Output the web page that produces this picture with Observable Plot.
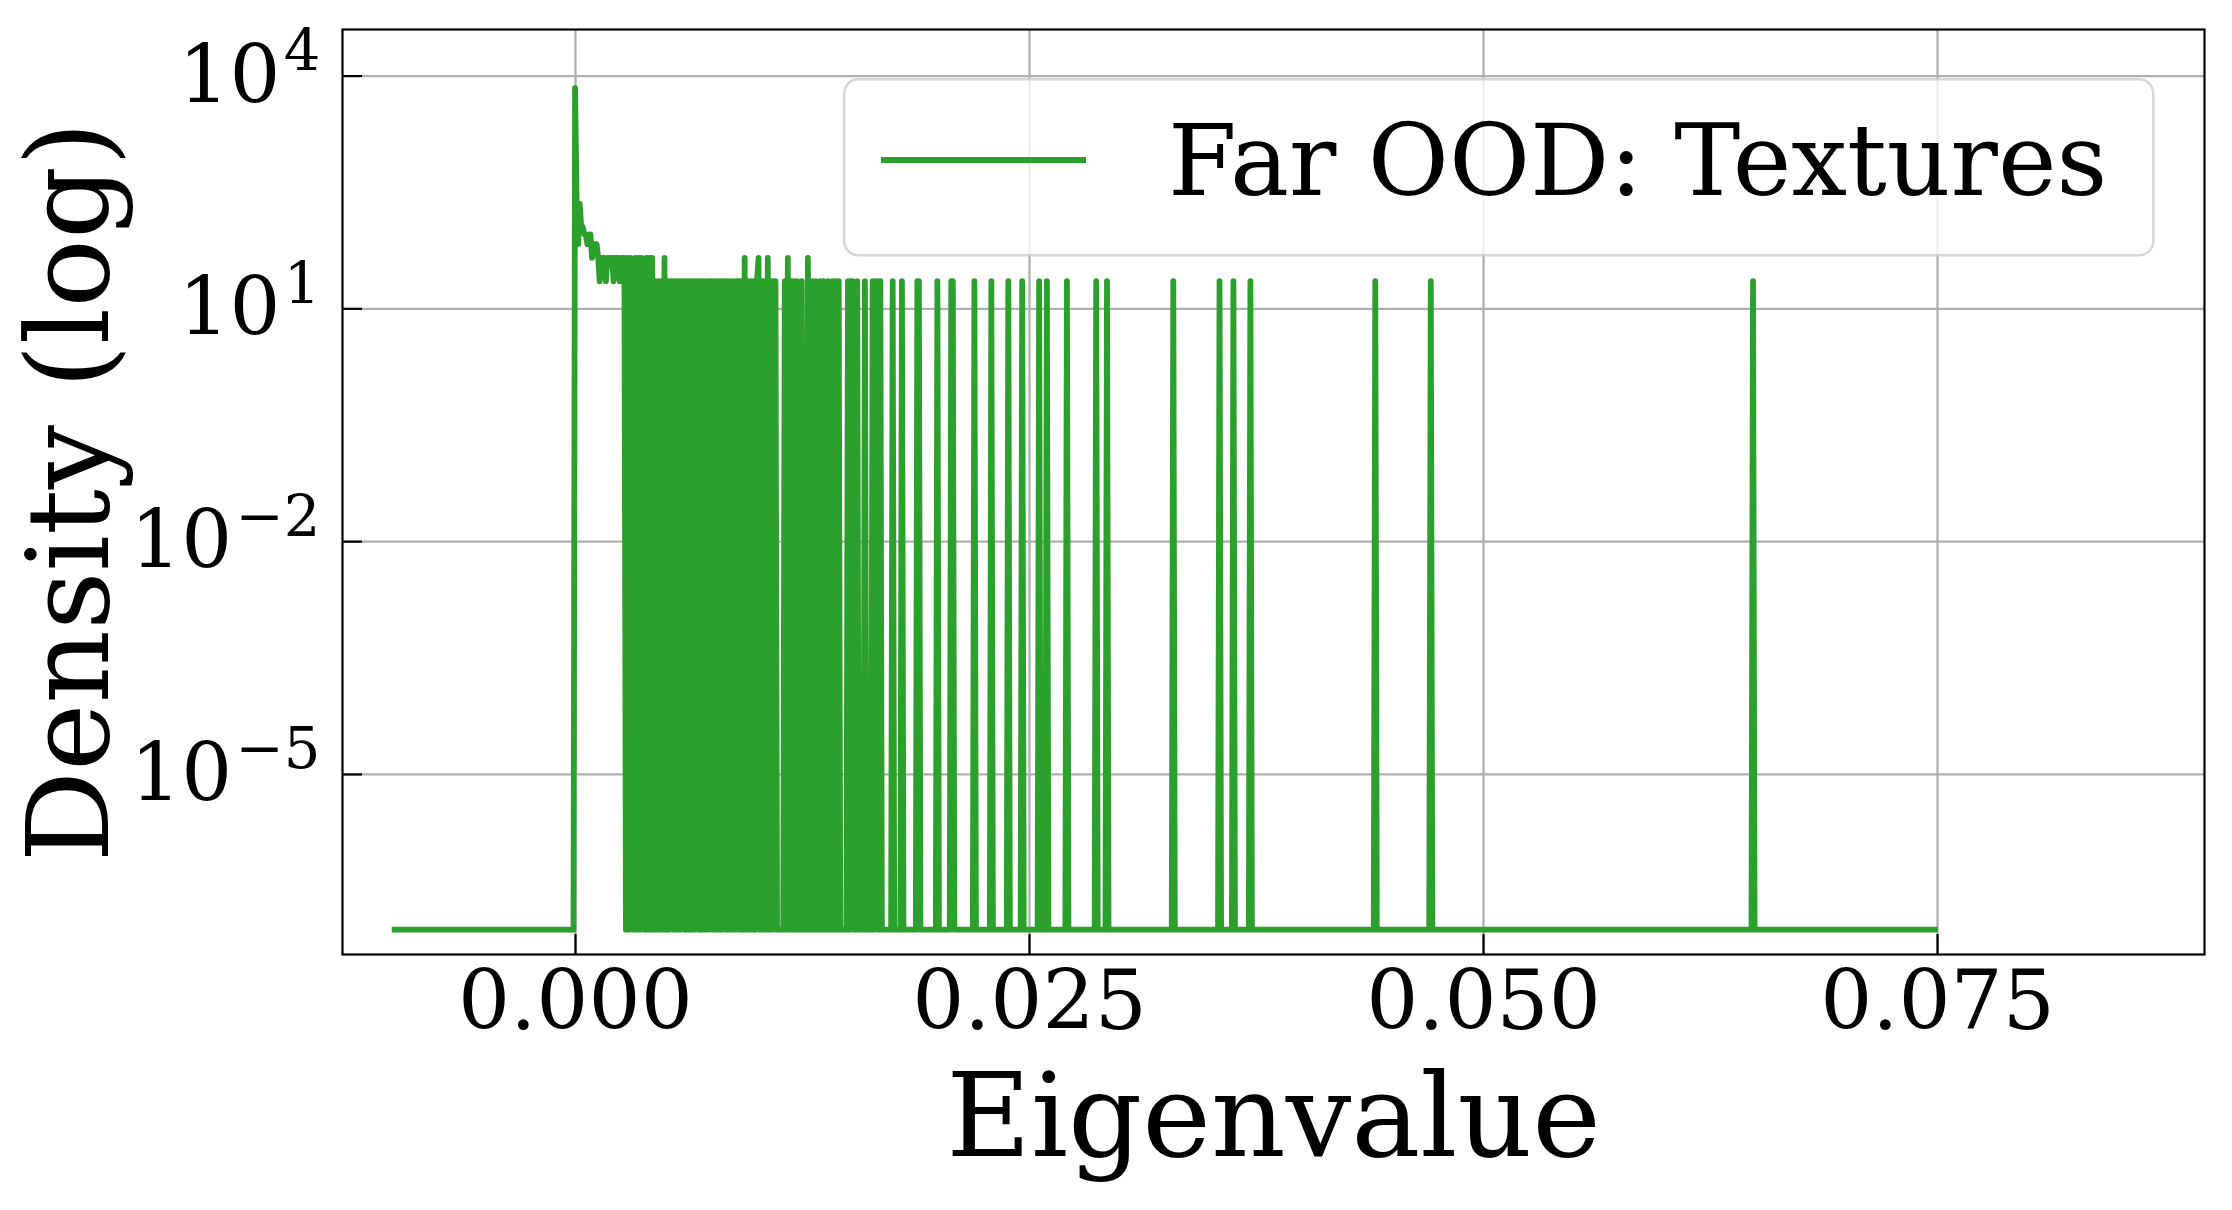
<!DOCTYPE html>
<html>
<head>
<meta charset="utf-8">
<script src="https://cdn.jsdelivr.net/npm/d3@7"></script>
<script src="https://cdn.jsdelivr.net/npm/@observablehq/plot@0.6"></script>
<style>
  html, body { margin: 0; padding: 0; background: #ffffff; }
  #wrap { position: relative; width: 2232px; height: 1210px; }
  #legend { position: absolute; left: 843px; top: 78px; }
</style>
</head>
<body>
<div id="wrap"></div>
<script>
// ---------------- data ----------------
// histogram of eigenvalues, 1000 bins over [min - 0.01, max + 0.01]
const histRange = [-0.0100, 0.0749];
const histBinCount = 1000;

// counts in consecutive bins, starting at the bin that contains eigenvalue 0
const denseCounts = [
  308, 11, 3, 10, 5, 5, 4, 4, 3, 4, 4, 2, 3, 3, 3, 2,
  1, 2, 2, 2, 1, 2, 2, 2, 2, 1, 2, 2, 2, 1, 2, 2, 2,
  0, 2, 0, 2, 1, 0, 2, 0, 2, 0, 2, 1, 0, 2, 0, 2, 0, 2, 0, 1,
  0, 1, 0, 1, 0, 2,
  0, 1, 0, 1, 1, 0, 1, 0, 1, 0, 1, 1, 0, 1, 0, 1, 0, 1, 0, 1,
  1, 0, 1, 0, 1, 0, 1, 0, 1, 1, 0, 1, 0, 1, 0, 1, 0, 1, 1, 0,
  1, 0, 1, 0, 1, 0, 1, 1, 0, 1,
  0, 2, 0, 1, 0, 1, 0, 1, 0, 1, 2, 0, 1, 0, 1, 0, 2, 0, 1, 0, 1, 1, 0, 0, 0, 0, 0,
  1, 0, 2, 0, 1, 0, 1, 0, 1, 0, 0, 1, 0, 0, 0, 2, 0, 0, 1, 0,
  1, 0, 0, 1, 0, 1, 0, 0, 1, 0, 0, 1, 0, 1, 0, 1, 0, 0, 0, 0,
  0, 1, 0, 1, 1, 0, 0, 1, 0, 0, 0, 0, 1, 0,
  0, 0, 0, 1, 0, 1, 1, 0, 1, 0, 0
];

// isolated eigenvalues further right
const sparseEigenvalues = [
  0.017465, 0.017975, 0.018824, 0.018908, 0.019927, 0.020691, 0.020776,
  0.021965, 0.022899, 0.023833, 0.024597, 0.025531, 0.025955, 0.027059,
  0.028672, 0.029266, 0.032917, 0.035464, 0.036228, 0.037162, 0.044039,
  0.047095, 0.064839
];
const sparseCounts = [
  1, 1, 1, 1, 1, 1, 1, 1, 1, 1, 1, 1, 1, 1, 1, 1, 1, 1, 1, 1, 1, 1, 1
];

const densityFloor = 1e-7;
const xTicks = [0, 0.025, 0.05, 0.075];
const yTicks = [1e4, 1e1, 1e-2, 1e-5];
const xLabel = "Eigenvalue";
const yLabel = "Density (log)";
const legendLabel = "Far OOD: Textures";
const lineColor = "#2ca02c";

// ---------------- build histogram density ----------------
const binWidth = (histRange[1] - histRange[0]) / histBinCount;
const counts = new Array(histBinCount).fill(0);
const zeroBin = Math.floor((0 - histRange[0]) / binWidth);
denseCounts.forEach((c, i) => { counts[zeroBin + i] += c; });
sparseEigenvalues.forEach((e, i) => {
  counts[Math.floor((e - histRange[0]) / binWidth)] += sparseCounts[i];
});
const total = d3.sum(counts);
const points = counts.map((c, i) => ({
  x: histRange[0] + (i + 0.5) * binWidth,
  y: c / (total * binWidth) + densityFloor
}));

const serif = '"DejaVu Serif", "Liberation Serif", serif';

const chart = Plot.plot({
  width: 2232,
  height: 1210,
  marginLeft: 342,
  marginRight: 28,
  marginTop: 29,
  marginBottom: 256,
  style: { fontFamily: serif, background: "white", color: "black", overflow: "visible" },
  x: { domain: [-0.01283, 0.0897] },
  y: { type: "log", domain: [Math.pow(10, -7.32), Math.pow(10, 4.6)] },
  marks: [
    Plot.ruleX(xTicks, { stroke: "#b0b0b0", strokeWidth: 2.3 }),
    Plot.ruleY(yTicks, { stroke: "#b0b0b0", strokeWidth: 2.3 }),
    Plot.line(points, {
      x: "x", y: "y", stroke: lineColor, strokeWidth: 5.8,
      strokeLinejoin: "round", strokeLinecap: "square"
    }),
    Plot.tickX(xTicks, { stroke: "black", strokeWidth: 2.2, insetTop: 905 }),
    Plot.tickY(yTicks, { stroke: "black", strokeWidth: 2.2, insetRight: 1842 }),
    Plot.axisX(xTicks, {
      tickSize: 0, tickPadding: 16, fontSize: 82, label: null,
      tickFormat: d3.format(".3f")
    }),
    Plot.axisY(yTicks, {
      tickSize: 0, tickPadding: 22, fontSize: 80, label: null,
      tickFormat: d => {
        const e = Math.round(Math.log10(d));
        return "10^" + (e < 0 ? "\u2212" + (-e) : String(e));
      }
    }),
    Plot.frame({ stroke: "black", strokeWidth: 2.2 }),
    Plot.text([xLabel], {
      text: d => d, frameAnchor: "bottom", lineAnchor: "bottom", textAnchor: "middle",
      dy: 201, fontSize: 116, fill: "black"
    }),
    Plot.text([yLabel], {
      text: d => d, frameAnchor: "left", lineAnchor: "bottom", textAnchor: "middle",
      rotate: -90, dx: -235, fontSize: 114, fill: "black"
    })
  ]
});

// render exponents as superscripts
chart.querySelectorAll('g[aria-label="y-axis tick label"] text').forEach(t => {
  const parts = t.textContent.split("^");
  if (parts.length !== 2) return;
  t.textContent = parts[0];
  const ts = document.createElementNS("http://www.w3.org/2000/svg", "tspan");
  ts.setAttribute("font-size", "72%");
  ts.setAttribute("dy", "-0.55em");
  ts.setAttribute("dx", "0.06em");
  ts.textContent = parts[1];
  t.appendChild(ts);
});

const wrap = document.getElementById("wrap");
wrap.appendChild(chart);

// legend (inside the plot frame, upper right)
const NS = "http://www.w3.org/2000/svg";
const leg = document.createElementNS(NS, "svg");
leg.setAttribute("id", "legend");
leg.setAttribute("width", 1312);
leg.setAttribute("height", 179);
leg.style.fontFamily = serif;
const box = document.createElementNS(NS, "rect");
box.setAttribute("x", 1.25); box.setAttribute("y", 1.25);
box.setAttribute("width", 1309); box.setAttribute("height", 176);
box.setAttribute("rx", 14);
box.setAttribute("fill", "white"); box.setAttribute("fill-opacity", 0.8);
box.setAttribute("stroke", "#cccccc"); box.setAttribute("stroke-opacity", 0.8);
box.setAttribute("stroke-width", 2.5);
leg.appendChild(box);
const sample = document.createElementNS(NS, "line");
sample.setAttribute("x1", 38); sample.setAttribute("x2", 243);
sample.setAttribute("y1", 82); sample.setAttribute("y2", 82);
sample.setAttribute("stroke", lineColor); sample.setAttribute("stroke-width", 6);
leg.appendChild(sample);
const lt = document.createElementNS(NS, "text");
lt.setAttribute("x", 325); lt.setAttribute("y", 117);
lt.setAttribute("font-size", 99);
lt.setAttribute("fill", "black");
lt.textContent = legendLabel;
leg.appendChild(lt);
wrap.appendChild(leg);
</script>
</body>
</html>
